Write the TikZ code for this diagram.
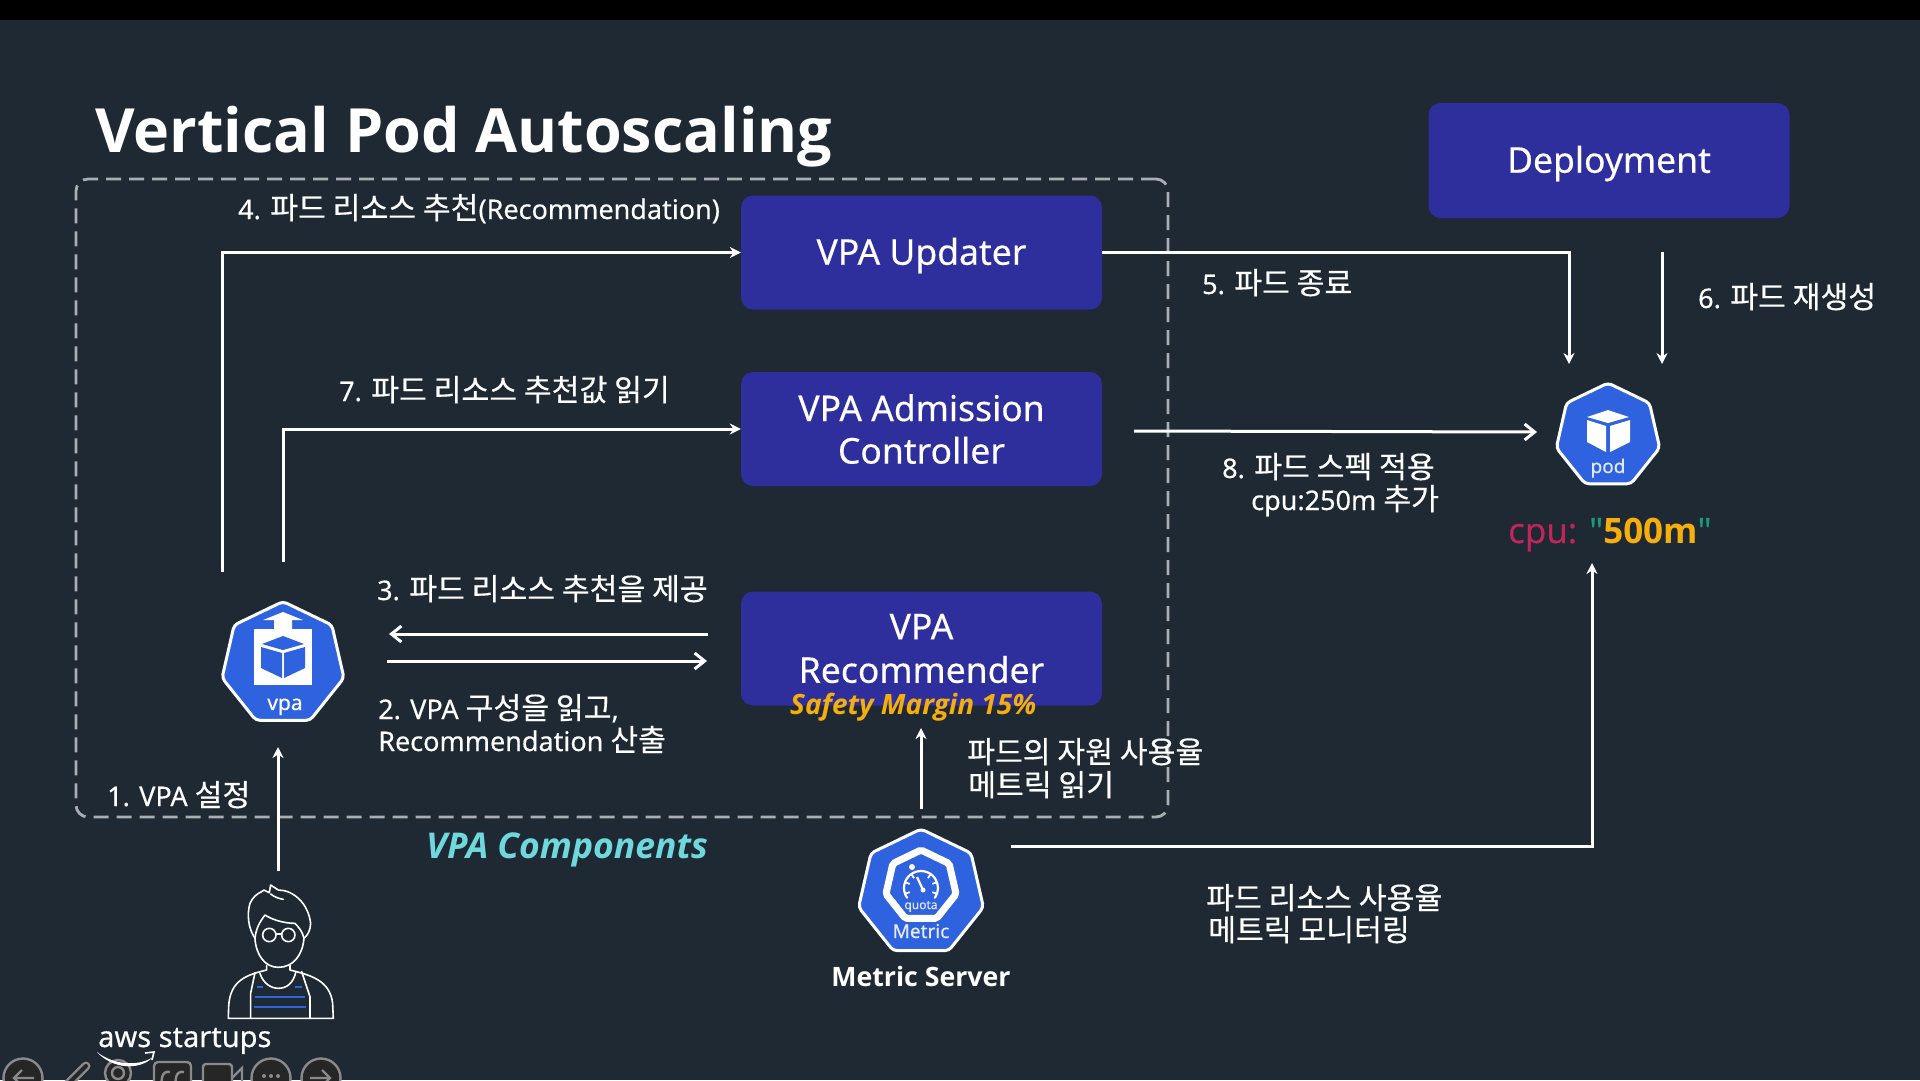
\documentclass[tikz,border=0pt]{standalone}
\usepackage{fontspec}
\setmainfont{Noto Sans}[FakeBold=0.35]
\newfontfamily\kr{Noto Sans CJK KR}[Scale=1.12,FakeBold=0.35]
\newfontfamily\os{Open Sans}[BoldFont={Open Sans Bold},BoldItalicFont={Open Sans Bold Italic}]
\newfontfamily\osfb{Open Sans}[FakeBold=0.5]
\usetikzlibrary{arrows.meta,shapes.geometric,calc}
\definecolor{bg}{HTML}{1F2933}
\definecolor{boxc}{HTML}{2E2F9C}
\definecolor{k8s}{HTML}{2F62DE}
\definecolor{cyanl}{HTML}{6FD8DC}
\definecolor{ambr}{HTML}{F5AE0C}
\definecolor{crim}{HTML}{C2255C}
\definecolor{teal2}{HTML}{1A9A7A}
\definecolor{tool}{HTML}{8A8A8A}
\newcommand{\K}[1]{{\kr #1}}
\newcommand{\fsz}[1]{\fontsize{#1}{#1}\selectfont}
\newcommand{\lowstrut}{\rule{0pt}{33pt}}
\tikzset{
  lbl/.style={text=white,anchor=base west,inner sep=0pt,font=\fsz{27}},
  comp/.style={fill=boxc,rounded corners=12pt,text=white,align=center,inner sep=0pt,font=\fsz{35.5}},
  conn/.style={draw=white,line width=3pt,-{Stealth[length=11pt,width=11pt]}},
  openconn/.style={draw=white,line width=3pt,-{Straight Barb[length=10pt,width=16pt,line width=3pt]}},
  hepta/.style={regular polygon,regular polygon sides=7,fill=k8s,draw=white,line width=3pt,rounded corners=4pt,inner sep=0pt},
  ink/.style={draw=white,line width=1.6pt,line join=round,line cap=round},
  tbar/.style={draw=tool,line width=2.4pt,fill=black!85},
}
\begin{document}
\begin{tikzpicture}[x=1pt,y=-1pt]
\useasboundingbox (0,0) rectangle (1920,1080);
\clip (0,0) rectangle (1920,1080);
\fill[bg] (0,0) rectangle (1920,1080);
\fill[black] (0,0) rectangle (1920,20);

% title
\node[lbl,font=\os\fsz{61}\bfseries] (title) at (95,152) {Vertical Pod Autoscaling};

% dashed group
\node[draw=white!62!bg,dashed,dash pattern=on 15pt off 8pt,line width=2.8pt,rounded corners=12pt,
  minimum width=1092pt,minimum height=638pt,inner sep=0pt] (grp) at (622,498) {};

% component boxes
\node[comp,minimum width=361pt,minimum height=114pt] (upd) at (921.5,252.5) {\lowstrut VPA Updater};
\node[comp,minimum width=361pt,minimum height=114pt] (adm) at (921.5,429) {VPA Admission\\[7pt]Controller};
\node[comp,minimum width=361pt,minimum height=114pt] (rec) at (921.5,648.5) {VPA\\[8pt]Recommender};
\node[comp,minimum width=361pt,minimum height=115pt] (dep) at (1609,160.5) {\lowstrut Deployment};

% icons
\node[hepta,minimum size=125pt] (vpa) at (283,664) {};
\node[hepta,minimum size=128pt] (met) at (921,893) {};
\node[hepta,minimum size=106pt] (pod) at (1608,436) {};

% vpa glyph
\fill[white] (254,629) rectangle (312,685);
\fill[white] (283,612) -- (303,620) -- (292,620) -- (292,630) -- (274,630) -- (274,620) -- (263,620) -- cycle;
\fill[k8s] (283,636) -- (304,644) -- (283,650) -- (262,644) -- cycle;
\fill[k8s] (261,647) -- (282,653) -- (282,678) -- (261,668) -- cycle;
\fill[k8s] (305,647) -- (284,653) -- (284,678) -- (305,668) -- cycle;
\node[text=white,font=\fsz{21},inner sep=0pt,anchor=base] (vpat) at (285,710) {vpa};

% pod glyph
\fill[white] (1608,410) -- (1629,417) -- (1608,423) -- (1587,417) -- cycle;
\fill[white] (1587,420) -- (1606,426) -- (1606,452) -- (1587,442) -- cycle;
\fill[white] (1630,420) -- (1610,426) -- (1610,452) -- (1630,442) -- cycle;
\node[text=white!85!k8s,font=\fsz{19},inner sep=0pt,anchor=base] (podt) at (1608,473) {pod};

% metric glyph
\node[regular polygon,regular polygon sides=7,draw=white,line width=7pt,rounded corners=2pt,inner sep=0pt,minimum size=72pt] (quo) at (921,886) {};
\draw[white,line width=2.2pt,line cap=round] ($(921,888)+(145:17)$) arc (145:395:17);
\draw[white,line width=2.2pt] (917,877) -- (923,890);
\fill[white] (923,890) circle (2.5);
\fill[white] (912,867) circle (3);
\foreach \a in {160,200,235,305,340,20}{\draw[white,line width=1.8pt] ($(921,888)+(\a:17)$) -- ($(921,888)+(\a:12)$);}
\node[text=white!85!k8s,font=\fsz{12},inner sep=0pt,anchor=base] (quot) at (921,909) {quota};
\node[text=white!88!k8s,font=\fsz{19},inner sep=0pt,anchor=base] (mett) at (921,938) {Metric};

% person
\begin{scope}[shift={(0,860)},x=0.3333pt,y=-0.3333pt]
\draw[ink] (765,235) .. controls (745,205) and (740,165) .. (750,130) .. controls (758,112) and (772,100) .. (785,95) -- (792,90) -- (808,98) -- (812,75) -- (835,90) .. controls (880,90) and (925,130) .. (932,190) .. controls (932,210) and (922,228) .. (912,235);
\draw[ink] (812,102) .. controls (825,112) and (838,116) .. (850,118);
\draw[ink] (765,235) .. controls (768,205) and (780,185) .. (795,165) .. controls (815,178) and (850,190) .. (885,190) .. controls (895,200) and (908,215) .. (912,235);
\draw[ink] (765,235) .. controls (768,285) and (795,322) .. (835,322) .. controls (880,322) and (908,285) .. (912,235);
\draw[ink] (808,225) circle (20);
\draw[ink] (865,225) circle (20);
\draw[ink] (828,222) -- (845,222);
\draw[ink] (800,316) -- (800,330) .. controls (740,345) and (690,360) .. (686,440) -- (685,475) -- (1000,475) -- (998,430) .. controls (990,360) and (930,345) .. (870,330) -- (870,316);
\draw[ink] (780,340) .. controls (790,372) and (815,385) .. (835,385) .. controls (860,385) and (880,370) .. (888,335);
\draw[ink] (765,338) -- (752,400) -- (752,475);
\draw[ink] (905,335) -- (930,410) -- (930,475);
\foreach \xa/\xb/\yy in {770/790/380,885/905/380,765/915/410,762/918/440}
  \draw[draw=k8s,line width=1.8pt] (\xa,\yy) -- (\xb,\yy);
\end{scope}
\coordinate (usr) at (278,871);

% connector ends
\coordinate (vpaA) at (222,572);
\coordinate (vpaB) at (283,562);
\coordinate (podA) at (1569,364);
\coordinate (podB) at (1662,364);
\coordinate (depOut) at (1662,252);
\coordinate (admOut) at (1134,431);
\coordinate (podC) at (1537,432);
\coordinate (recL) at (708,634);
\coordinate (vpaL) at (389,634);
\coordinate (vpaR) at (387,661);
\coordinate (recR) at (707,661);
\coordinate (metUp) at (921,809);
\coordinate (recUp) at (921,728);
\coordinate (usrUp) at (278,747);
\coordinate (metOut) at (1011,846);
\coordinate (cpuIn) at (1592,563);

% connectors
\draw[conn] (vpaA) |- (upd.west);
\draw[conn] (vpaB) |- (adm.west);
\draw[conn] (upd.east) -| (podA);
\draw[conn] (depOut) -- (podB);
\draw[openconn] (admOut) -- (podC);
\draw[openconn] (recL) -- (vpaL);
\draw[openconn] (vpaR) -- (recR);
\draw[conn] (metUp) -- (recUp);
\draw[conn] (usr) -- (usrUp);
\draw[conn] (metOut) -| (cpuIn);

% labels
\node[lbl] (l4) at (238,219) {4. \K{파드 리소스 추천}(Recommendation)};
\node[lbl] (l7) at (339,401) {7. \K{파드 리소스 추천값 읽기}};
\node[lbl] (l5) at (1202,294) {5. \K{파드 종료}};
\node[lbl] (l6) at (1698,308) {6. \K{파드 재생성}};
\node[lbl] (l8) at (1222,478) {8. \K{파드 스펙 적용}};
\node[lbl] (l8b) at (1251,510) {cpu:250m \K{추가}};
\node[lbl] (l3) at (377,600) {3. \K{파드 리소스 추천을 제공}};
\node[lbl] (l2) at (378,719) {2. VPA \K{구성을 읽고},};
\node[lbl] (l2b) at (378,751) {Recommendation \K{산출}};
\node[lbl] (l1) at (107,806) {1. VPA \K{설정}};
\node[lbl] (m1) at (967,763) {\K{파드의 자원 사용율}};
\node[lbl] (m2) at (968,796) {\K{메트릭 읽기}};
\node[lbl] (n1) at (1206,909) {\K{파드 리소스 사용율}};
\node[lbl] (n2) at (1208,941) {\K{메트릭 모니터링}};
\node[lbl,text=cyanl,font=\os\fsz{35.5}\bfseries\itshape] (cmp) at (426,858) {VPA Components};
\node[lbl,text=ambr,font=\os\fsz{28}\bfseries\itshape] (saf) at (790,714) {Safety Margin 15\%};
\node[lbl,font=\os\fsz{26.7}\bfseries,anchor=base] (ms) at (921,986) {Metric Server};
\node[lbl,font=\fsz{29}] (aws) at (98,1047) {aws startups};
\node[lbl,font=\osfb\fsz{35}] (cpu) at (1508,543) {\textcolor{crim}{cpu:} \textcolor{teal2}{"}\textcolor{ambr}{\os\bfseries 500m}\textcolor{teal2}{"}};

% toolbar
\draw[tbar] (23,1078) circle (19.5);
\draw[tool,line width=2.4pt] (34,1078) -- (14,1078) (22,1070) -- (14,1078) -- (22,1086);
\draw[tool,line width=9pt,line cap=round] (62,1090) -- (86,1066);
\draw[black!85,line width=4pt,line cap=round] (62,1090) -- (86,1066);
\draw[tbar] (118,1073) circle (13);
\draw[tool,line width=2.4pt] (118,1073) circle (6);
\draw[tbar,rounded corners=4pt] (154,1062) rectangle (191,1095);
\draw[tool,line width=2.4pt] (170,1072) .. controls (161,1070) and (161,1082) .. (162,1084);
\draw[tool,line width=2.4pt] (184,1072) .. controls (175,1070) and (175,1082) .. (176,1084);
\fill[black!85,draw=tool,line width=2.4pt,rounded corners=3pt] (203,1064) rectangle (232,1095);
\draw[tool,line width=2.4pt] (232,1078) -- (242,1068) -- (242,1095);
\draw[tbar] (271,1078) circle (19.5);
\foreach \dx in {-7,0,7}{\fill[tool] ($(271,1076)+(\dx,0)$) circle (2);}
\draw[tbar] (321,1078) circle (19.5);
\draw[tool,line width=2.4pt] (310,1078) -- (330,1078) (322,1070) -- (330,1078) -- (322,1086);
% smile
\fill[white] (97,1052) .. controls (115,1066) and (140,1066) .. (153,1057) .. controls (140,1071) and (112,1069) .. (97,1052) -- cycle;
\draw[white,line width=1.6pt] (145,1053) -- (154,1052) -- (152,1060);
\end{tikzpicture}
\end{document}
